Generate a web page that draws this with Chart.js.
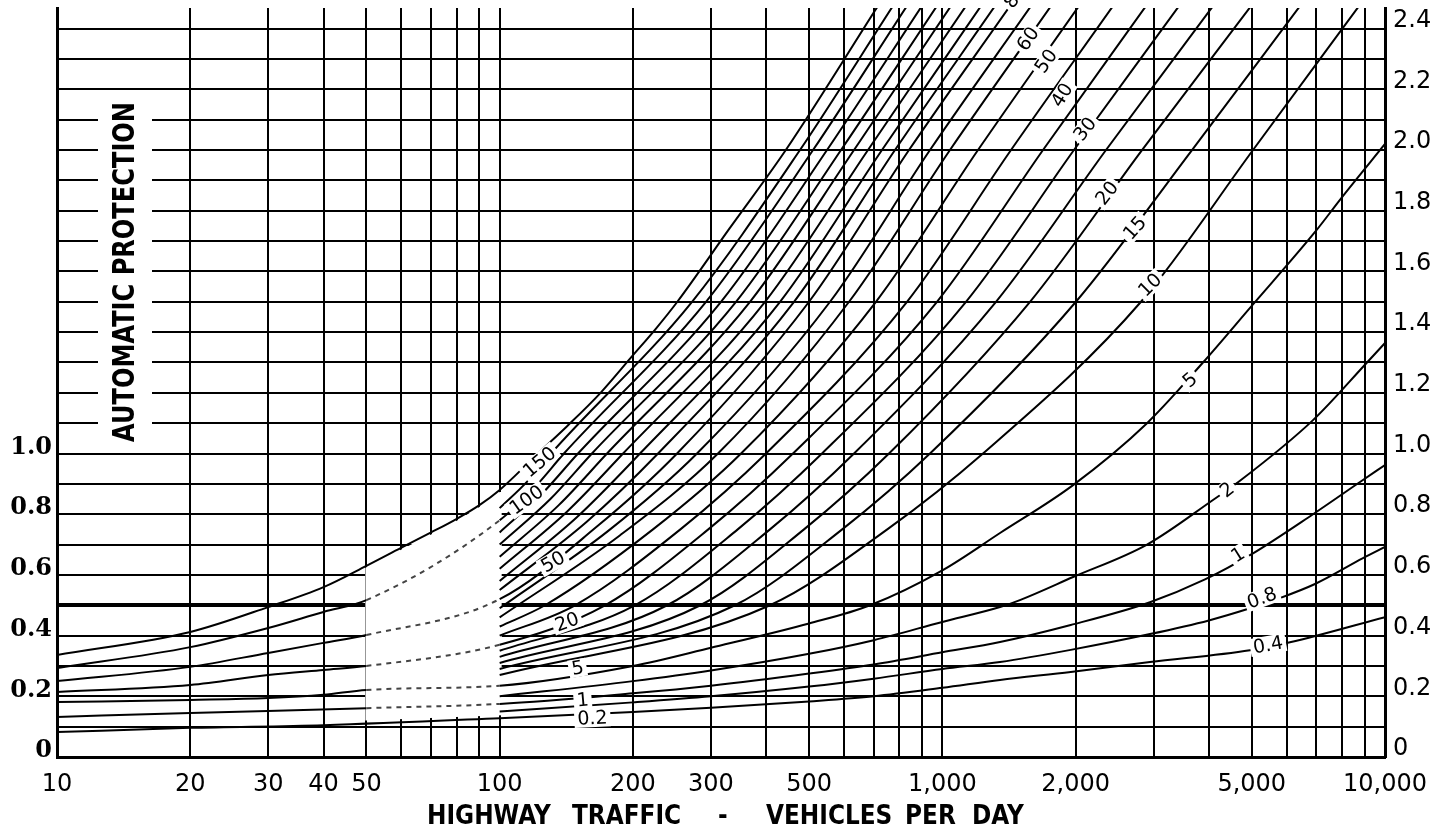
<!DOCTYPE html>
<html><head><meta charset="utf-8">
<script src="https://cdn.jsdelivr.net/npm/chart.js@4/dist/chart.umd.min.js"></script>
<style>html,body{margin:0;padding:0;background:#fff}#wrap{width:1452px;height:832px}</style>
</head><body><div id="wrap"><canvas id="c" width="1452" height="832"></canvas></div>
<script>
// Highway traffic (vehicles per day): grid lines and the values that carry a label
const xGrid = [10,20,30,40,50,60,70,80,90,100,200,300,400,500,600,700,800,900,1000,2000,3000,4000,5000,6000,7000,8000,9000,10000];
const xLabelled = {10:'10',20:'20',30:'30',40:'40',50:'50',100:'100',200:'200',300:'300',500:'500',1000:'1,000',2000:'2,000',5000:'5,000',10000:'10,000'};
const yGrid = [0,0.1,0.2,0.3,0.4,0.5,0.6,0.7,0.8,0.9,1.0,1.1,1.2,1.3,1.4,1.5,1.6,1.7,1.8,1.9,2.0,2.1,2.2,2.3,2.4];
const yLeftLabels = {0:'0',0.2:'0.2',0.4:'0.4',0.6:'0.6',0.8:'0.8',1:'1.0'};
const yRightLabels = {0:'0',0.2:'0.2',0.4:'0.4',0.6:'0.6',0.8:'0.8',1:'1.0',1.2:'1.2',1.4:'1.4',1.6:'1.6',1.8:'1.8',2:'2.0',2.2:'2.2',2.4:'2.4'};

// Curves as [vehicles per day, value] pairs, steepest first.
// Between 50 and 100 vehicles the curves run through a faded band and are drawn broken.
const c01 = [[10,0.336],[20,0.412],[30,0.494],[40,0.56],[50,0.63],[60,0.69],[70,0.74],[80,0.785],[90,0.83],[100,0.88],[122,1.0],[142,1.09],[169,1.20],[199,1.32],[225,1.41],[252,1.50],[330,1.74],[443,2.0],[712,2.47]];
const c02 = [[100,0.82],[115.8,0.91],[130.6,1.0],[272,1.5],[476.9,2.0],[769.6,2.47]];
const c03 = [[10,0.293],[20,0.362],[30,0.425],[40,0.478],[50,0.517],[100,0.78],[120.2,0.89],[139.7,1.0],[292.5,1.5],[510.4,2.0],[827.8,2.47]];
const c04 = [[100,0.74],[125.1,0.87],[150.3,1.0],[316.2,1.5],[548.9,2.0],[894.8,2.47]];
const c05 = [[100,0.70],[130.2,0.85],[161.6,1.0],[341.9,1.5],[590.4,2.0],[967.4,2.47]];
const c06 = [[100,0.66],[136,0.83],[174.8,1.0],[367.7,1.5],[631.7,2.0],[1040.6,2.47]];
const c07 = [[100,0.62],[142.3,0.81],[190,1.0],[397.6,1.5],[679.3,2.0],[1125,2.47]];
const c08 = [[100,0.58],[149.4,0.79],[207.5,1.0],[429.9,1.5],[730.5,2.0],[1216.4,2.47]];
const c09 = [[100,0.55],[157.3,0.775],[227.9,1.0],[462.3,1.5],[781.7,2.0],[1308.3,2.47]];
const c10 = [[10,0.25],[20,0.297],[30,0.343],[40,0.376],[50,0.402],[100,0.52],[166.1,0.76],[251.6,1.0],[499.9,1.5],[840.8,2.0],[1414.6,2.47]];
const c11 = [[100,0.49],[175.9,0.745],[279.1,1.0],[557.6,1.5],[937.8,2.0],[1577.9,2.47]];
const c12 = [[100,0.46],[186.8,0.73],[311.3,1.0],[615.5,1.5],[1040.6,2.0],[1750.8,2.47]];
const c13 = [[100,0.43],[126.6,0.5],[222,0.75],[351,1.0],[708,1.5],[1203.8,2.0],[2024.7,2.47]];
const c14 = [[100,0.40],[148,0.5],[256,0.75],[399.6,1.0],[832.1,1.5],[1429.4,2.0],[2417.3,2.47]];
const c15 = [[10,0.214],[20,0.237],[30,0.27],[40,0.287],[50,0.30],[100,0.37],[173,0.5],[296,0.75],[459.8,1.0],[972.6,1.5],[1688.2,2.0],[2869.6,2.47]];
const c16 = [[100,0.35],[202,0.5],[345,0.75],[534.8,1.0],[1130.9,1.5],[1983.1,2.0],[3407.2,2.47]];
const c17 = [[100,0.33],[239,0.5],[408,0.75],[631.7,1.0],[1322,1.5],[2342.8,2.0],[4066.5,2.47]];
const c18 = [[100,0.31],[284,0.5],[487,0.75],[757.7,1.0],[1577.9,1.5],[2825.3,2.0],[4955,2.47]];
const c19 = [[100,0.29],[340,0.5],[594,0.75],[937.8,1.0],[2003.8,1.5],[3664.3,2.0],[6392,2.47]];
const c20 = [[100,0.27],[408,0.5],[751,0.75],[1235.5,1.0],[2810.7,1.5],[5033,2.0],[8690,2.47]];
const c21 = [[10,0.181],[20,0.188],[30,0.194],[40,0.205],[50,0.221],[100,0.235],[200,0.30],[300,0.36],[500,0.44],[687,0.5],[1000,0.615],[1350,0.738],[1974,0.896],[2900,1.10],[3880,1.30],[4955,1.48],[6950,1.73],[8000,1.845],[10000,2.02]];
const c22 = [[100,0.20],[200,0.25],[300,0.285],[500,0.34],[700,0.385],[1000,0.445],[1350,0.494],[1497,0.517],[1974,0.593],[2900,0.70],[4087,0.847],[4703,0.91],[6877,1.11],[9107,1.30],[10000,1.364]];
const c23 = [[10,0.132],[20,0.145],[50,0.161],[100,0.175],[200,0.21],[300,0.235],[500,0.275],[700,0.305],[1000,0.345],[1350,0.379],[1950,0.435],[2945,0.51],[3921,0.585],[4955,0.665],[6877,0.80],[8780,0.906],[10000,0.962]];
const c24 = [[100,0.15],[200,0.18],[300,0.20],[500,0.232],[700,0.258],[1000,0.29],[1350,0.313],[1950,0.353],[2945,0.405],[4000,0.45],[4955,0.49],[5700,0.52],[6948,0.57],[8918,0.655],[10000,0.692]];
const c25 = [[10,0.082],[20,0.096],[40,0.105],[100,0.128],[200,0.148],[300,0.162],[500,0.183],[700,0.20],[1000,0.228],[1350,0.254],[1950,0.28],[2945,0.313],[4955,0.352],[6100,0.378],[10000,0.461]];

const curves = [c01,c02,c03,c04,c05,c06,c07,c08,c09,c10,c11,c12,c13,c14,c15,c16,c17,c18,c19,c20,c21,c22,c23,c24,c25];
// curves whose 50-100 stretch is broken
const brokenInBand = [c03,c10,c15,c21,c23];

// Curve labels: text, vehicles per day, value, angle in degrees
const curveLabels = [
  ['80',1459,2.507,-55],['60',1561,2.366,-55],['50',1715,2.293,-55],['40',1864,2.181,-58],
  ['30',2101,2.069,-52],['20',2355,1.858,-52],['15',2723,1.743,-48],['10',2945,1.555,-45],
  ['5',3627,1.242,-42],['2',4396,0.880,-38],['1',4655,0.666,-32],['0.8',5274,0.524,-20],['0.4',5441,0.369,-10],
  ['150',123,0.972,-40],['100',115,0.847,-35],['50',132,0.643,-30],['20',142,0.445,-20],
  ['5',150,0.293,-10],['1',154,0.188,-5],['0.2',162,0.128,-3]
];

const overlay = {
  id:'overlay',
  beforeDatasetsDraw(chart){
    // faded band between 50 and 100 vehicles, bounded by the top and bottom curves
    const {ctx, scales:{x,y}} = chart;
    const top = c01.filter(p=>p[0]>=50&&p[0]<=100);
    ctx.save();
    ctx.beginPath();
    top.forEach((p,i)=>{const px=x.getPixelForValue(p[0]),py=y.getPixelForValue(p[1])+2; i?ctx.lineTo(px,py):ctx.moveTo(x.getPixelForValue(50)-1,py);});
    ctx.lineTo(x.getPixelForValue(100)+2,y.getPixelForValue(0.88)+2);
    ctx.lineTo(x.getPixelForValue(100)+2,y.getPixelForValue(0.128)-3);
    ctx.lineTo(x.getPixelForValue(50)-1,y.getPixelForValue(0.11)-3);
    ctx.closePath();
    ctx.fillStyle='#fff'; ctx.fill();
    ctx.restore();
  },
  afterDatasetsDraw(chart){
    const {ctx, scales:{x,y}} = chart;
    ctx.save();
    ctx.font = '19px "DejaVu Sans"';
    ctx.textAlign='center'; ctx.textBaseline='middle';
    curveLabels.forEach(([t,v,val,a])=>{
      const px=x.getPixelForValue(v), py=y.getPixelForValue(val);
      ctx.save(); ctx.translate(px,py); ctx.rotate(a*Math.PI/180);
      const w=ctx.measureText(t).width+6;
      ctx.fillStyle='#fff'; ctx.fillRect(-w/2,-9,w,18);
      ctx.fillStyle='#000'; ctx.fillText(t,0,1);
      ctx.restore();
    });
    // vertical caption inside the grid
    const cx=125, cy=272, len=340;
    ctx.fillStyle='#fff'; ctx.fillRect(cx-27,cy-len/2-6,54,len+12);
    ctx.save(); ctx.translate(cx,cy); ctx.rotate(-Math.PI/2);
    ctx.font='bold 31px "DejaVu Sans"';
    const tw=ctx.measureText('AUTOMATIC PROTECTION').width;
    ctx.scale(len/tw,1);
    ctx.fillStyle='#000'; ctx.textAlign='center'; ctx.textBaseline='middle';
    ctx.fillText('AUTOMATIC PROTECTION',0,1);
    ctx.restore();
    // axis caption
    ctx.font='bold 27px "DejaVu Sans"'; ctx.fillStyle='#000'; ctx.textBaseline='middle'; ctx.textAlign='left';
    [['HIGHWAY',427],['TRAFFIC',572],['-',718],['VEHICLES',766],['PER',905],['DAY',972]].forEach(([t,a])=>{
      ctx.save(); ctx.translate(a,817); ctx.scale(0.86,1); ctx.fillText(t,0,0); ctx.restore();
    });
    ctx.restore();
  }
};

const noPad = s=>{s.paddingTop=0;s.paddingBottom=0;s.paddingLeft=0;s.paddingRight=0;};
const inBand = c => c.p0.parsed.x >= 49.9 && c.p1.parsed.x <= 100.1;

new Chart(document.getElementById('c'),{
  type:'line',
  data:{datasets: curves.map(c=>{
    const broken = brokenInBand.includes(c);
    return {data:c.map(([v,val])=>({x:v,y:val})),borderColor:'#000',borderWidth:2,pointRadius:0,cubicInterpolationMode:'monotone',fill:false,
      segment: broken ? {borderDash: s=>inBand(s)?[5,5]:undefined, borderColor: s=>inBand(s)?'#444':undefined} : undefined};
  })},
  options:{
    responsive:false, devicePixelRatio:1, animation:false,
    layout:{padding:{top:8,left:0,right:0,bottom:0}},
    plugins:{legend:{display:false},tooltip:{enabled:false}},
    scales:{
      x:{type:'logarithmic',min:10,max:10000,
        afterBuildTicks:s=>{s.ticks=xGrid.map(v=>({value:v}));},
        afterFit:s=>{s.height=75;noPad(s);},
        ticks:{autoSkip:false,maxRotation:0,padding:13,color:'#000',font:{family:'"DejaVu Sans"',size:24},callback:v=>xLabelled[v]||''},
        grid:{color:'#000',lineWidth:2,drawTicks:false},
        border:{display:true,color:'#000',width:3}},
      y:{min:0,max:2.468,position:'left',
        afterBuildTicks:s=>{s.ticks=yGrid.map(v=>({value:v}));},
        afterFit:s=>{s.width=57;noPad(s);},
        ticks:{autoSkip:false,padding:5,labelOffset:-6,color:'#000',font:{family:'"DejaVu Serif"',size:24,weight:'bold'},callback:v=>yLeftLabels[Math.round(v*10)/10]||''},
        grid:{color:'#000',lineWidth:c=>Math.abs(c.tick.value-0.5)<1e-6?4:2,drawTicks:false},
        border:{display:true,color:'#000',width:3}},
      y2:{min:0,max:2.468,position:'right',
        afterBuildTicks:s=>{s.ticks=yGrid.map(v=>({value:v}));},
        afterFit:s=>{s.width=67;noPad(s);},
        ticks:{autoSkip:false,padding:8,labelOffset:-8,color:'#000',font:{family:'"DejaVu Sans"',size:24},callback:v=>yRightLabels[Math.round(v*10)/10]||''},
        grid:{display:false,drawTicks:false},
        border:{display:true,color:'#000',width:3}}
    }
  },
  plugins:[overlay]
});
</script></body></html>
